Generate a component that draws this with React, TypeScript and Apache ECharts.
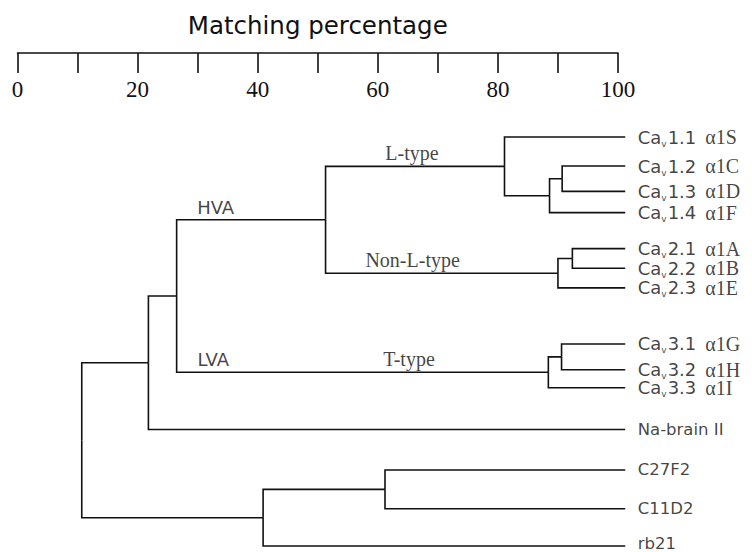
import React, { useEffect, useRef } from "react";
import * as echarts from "echarts";

// ---- data ----
const axisTicks = [0, 10, 20, 30, 40, 50, 60, 70, 80, 90, 100];
const leafGene = [
  "Cav1.1", "Cav1.2", "Cav1.3", "Cav1.4",
  "Cav2.1", "Cav2.2", "Cav2.3",
  "Cav3.1", "Cav3.2", "Cav3.3",
  "Na-brain II", "C27F2", "C11D2", "rb21",
];
const leafSubunit = ["α1S", "α1C", "α1D", "α1F", "α1A", "α1B", "α1E", "α1G", "α1H", "α1I", "", "", "", ""];
// vertical position of each leaf (0 = top leaf, 100 = bottom leaf)
const leafPos = [0, 7.1, 13.3, 18.5, 27.3, 32.1, 36.9, 50.6, 56.9, 61.3, 71.5, 81.4, 90.9, 100];
const leafDepth = 101.2; // matching percentage where leaf branches end
// merges (linkage): node 14 + k joins mergeA[k] and mergeB[k] at mergeHeight[k]
const mergeA = [1, 14, 0, 4, 17, 16, 7, 20, 19, 22, 11, 24, 23];
const mergeB = [2, 3, 15, 5, 6, 18, 8, 9, 21, 10, 12, 13, 25];
const mergeHeight = [90.7, 88.6, 81.1, 92.4, 90.0, 51.3, 90.6, 88.4, 26.5, 21.8, 61.2, 40.9, 10.7];
// clade labels: node index, text, x position (matching %), font kind
const cladeNode = [16, 18, 19, 21, 21];
const cladeText = ["L-type", "Non-L-type", "HVA", "LVA", "T-type"];
const cladeAt = [65.7, 65.8, 33.0, 32.6, 65.2];
const cladeSans = [false, false, true, true, false];

const SANS = "DejaVu Sans";
const SERIF = "Liberation Serif";
const INK = "#111111";

export default function App() {
  const ref = useRef<HTMLDivElement>(null);
  useEffect(() => {
    document.body.style.margin = "0";
    if (!ref.current) return;
    const chart = echarts.init(ref.current, undefined, { renderer: "svg" });

    const n = leafGene.length;
    const h: number[] = [];
    const y: number[] = [];
    for (let i = 0; i < n; i++) {
      h.push(leafDepth);
      y.push(leafPos[i]);
    }
    for (let k = 0; k < mergeA.length; k++) {
      h.push(mergeHeight[k]);
      y.push((y[mergeA[k]] + y[mergeB[k]]) / 2);
    }
    const links: any[] = [];
    for (let k = 0; k < mergeA.length; k++) {
      const node = n + k;
      [mergeA[k], mergeB[k]].forEach((c) => {
        links.push({
          coords: [
            [h[node], y[node]],
            [h[node], y[c]],
            [h[c], y[c]],
          ],
        });
      });
    }

    const leafData = leafGene.map((g, i) => ({
      value: [leafDepth, leafPos[i]],
      gene: g,
      sub: leafSubunit[i],
      label: i === n - 1 ? { offset: [0, -3] } : undefined,
    }));

    const cladeData = cladeText.map((t, i) => ({
      value: [cladeAt[i], y[cladeNode[i]]],
      name: t,
      label: {
        fontFamily: cladeSans[i] ? SANS : SERIF,
        fontSize: cladeSans[i] ? 18 : 20,
      },
    }));

    const option: any = {
      animation: false,
      backgroundColor: "#ffffff",
      grid: [
        { left: 17.5, right: 134, top: 53, height: 40 },
        { left: 17.5, right: 134, top: 137, bottom: 6 },
      ],
      xAxis: [
        {
          gridIndex: 0,
          type: "value",
          position: "top",
          min: 0,
          max: 100,
          interval: 10,
          name: "Matching percentage",
          nameLocation: "middle",
          nameGap: 15,
          nameTextStyle: { fontFamily: SANS, fontSize: 24.5, color: INK },
          axisLine: { show: true, onZero: false, lineStyle: { color: INK, width: 1.6 } },
          axisTick: { show: true, inside: true, length: 20, lineStyle: { color: INK, width: 1.6 } },
          axisLabel: {
            inside: true,
            margin: 25,
            fontFamily: SERIF,
            fontSize: 23,
            color: INK,
            formatter: (v: number) => (axisTicks.indexOf(v) >= 0 && v % 20 === 0 ? String(v) : ""),
          },
          splitLine: { show: false },
        },
        {
          gridIndex: 1,
          type: "value",
          min: 0,
          max: 100,
          show: false,
        },
      ],
      yAxis: [
        { gridIndex: 0, type: "value", show: false, min: 0, max: 1 },
        { gridIndex: 1, type: "value", show: false, inverse: true, min: 0, max: 100 },
      ],
      series: [
        {
          type: "lines",
          coordinateSystem: "cartesian2d",
          xAxisIndex: 1,
          yAxisIndex: 1,
          polyline: true,
          silent: true,
          clip: false,
          lineStyle: { color: INK, width: 1.6, opacity: 1, curveness: 0 },
          data: links,
        },
        {
          type: "scatter",
          xAxisIndex: 1,
          yAxisIndex: 1,
          symbolSize: 1,
          itemStyle: { color: "rgba(0,0,0,0)" },
          silent: true,
          clip: false,
          data: leafData,
          label: {
            show: true,
            position: "right",
            distance: 12,
            color: INK,
            formatter: (p: any) => {
              const g: string = p.data.gene;
              const s: string = p.data.sub;
              if (g.startsWith("Cav")) {
                return `{s|Ca}{v|v}{s|${g.slice(3)}}{g|${s}}`;
              }
              return `{n|${g}}`;
            },
            rich: {
              s: { fontFamily: SANS, fontSize: 18, color: INK, lineHeight: 22 },
              v: { fontFamily: SANS, fontSize: 9, color: INK, verticalAlign: "bottom", lineHeight: 12, padding: [0, 1, 0, 0] },
              g: { fontFamily: SERIF, fontSize: 20, color: INK, lineHeight: 22, padding: [0, 0, 0, 9] },
              n: { fontFamily: SANS, fontSize: 16.5, color: INK, lineHeight: 14 },
            },
          },
        },
        {
          type: "scatter",
          xAxisIndex: 1,
          yAxisIndex: 1,
          symbolSize: 1,
          itemStyle: { color: "rgba(0,0,0,0)" },
          silent: true,
          clip: false,
          data: cladeData,
          label: {
            show: true,
            position: "top",
            distance: 3,
            color: INK,
            formatter: (p: any) => p.name,
          },
        },
      ],
    };
    chart.setOption(option);
    return () => chart.dispose();
  }, []);
  return <div ref={ref} style={{ width: 752, height: 552 }} />;
}
